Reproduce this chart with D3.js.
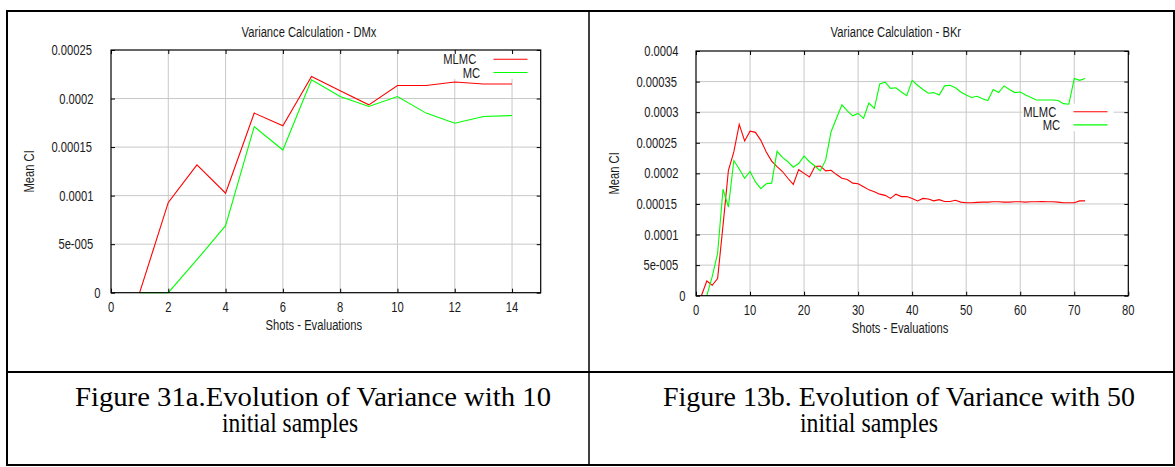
<!DOCTYPE html>
<html>
<head>
<meta charset="utf-8">
<script src="https://cdn.jsdelivr.net/npm/d3@7"></script>
<style>
    body { margin: 0; background: #fff; }
    text { font-family: "Liberation Sans", Arial, sans-serif; font-size: 14px; fill: #1a1a1a; }
    text.cap { font-family: "Liberation Serif", "Times New Roman", serif; font-size: 27px; fill: #000; }
</style>
</head>
<body>
<script>
// DMx run, 10 initial samples
const dmxShots = [1, 2, 3, 4, 5, 6, 7, 8, 9, 10, 11, 12, 13, 14]
const dmxMLMC = [0, 0.000093, 0.0001317, 0.0001025, 0.000185, 0.000172, 0.0002227, 0.000208,
    0.0001935, 0.0002134, 0.0002134, 0.000217, 0.000215, 0.000215]
const dmxMC = [0, 0, 0.000034, 0.000069, 0.000171, 0.000147, 0.0002193, 0.000202,
    0.0001918, 0.000202, 0.000185, 0.0001746, 0.0001815, 0.0001825]

// BKr run, 50 initial samples
const bkrMLMCShots = [1, 2, 3, 4, 5, 6, 7, 8, 9, 10, 11, 12, 13, 14, 15, 16, 17, 18, 19, 20,
    21, 22, 23, 24, 25, 26, 27, 28, 29, 30, 31, 32, 33, 34, 35, 36, 37, 38, 39, 40,
    41, 42, 43, 44, 45, 46, 47, 48, 49, 50, 51, 52, 53, 54, 55, 56, 57, 58, 59, 60,
    61, 62, 63, 64, 65, 66, 67, 68, 69, 70, 71, 72]
const bkrMLMC = [0, 0.000024, 0.000017, 0.000028, 0.000115, 0.000205, 0.000235, 0.00028, 0.000253, 0.000269,
    0.000267, 0.000254, 0.000235, 0.00022, 0.000211, 0.000203, 0.000192, 0.000182, 0.000206, 0.0002,
    0.000194, 0.000211, 0.000212, 0.000204, 0.000205, 0.000198, 0.000192, 0.00019, 0.000184, 0.000183,
    0.000178, 0.000173, 0.00017, 0.000166, 0.000164, 0.000159, 0.000166, 0.000162, 0.000162, 0.000159,
    0.000155, 0.000159, 0.000158, 0.000155, 0.000157, 0.000154, 0.000154, 0.000156, 0.000153, 0.000152,
    0.000152, 0.0001525, 0.000153, 0.000153, 0.0001535, 0.0001535, 0.000153, 0.000153, 0.0001535, 0.0001535,
    0.000153, 0.0001535, 0.0001535, 0.000154, 0.0001535, 0.0001535, 0.000153, 0.000152, 0.000152, 0.000152,
    0.000155, 0.000155]
const bkrMCShots = [2, 3, 4, 5, 6, 7, 8, 9, 10, 11, 12, 13, 14, 15, 16, 17, 18, 19, 20,
    21, 22, 23, 24, 25, 26, 27, 28, 29, 30, 31, 32, 33, 34, 35, 36, 37, 38, 39, 40,
    41, 42, 43, 44, 45, 46, 47, 48, 49, 50, 51, 52, 53, 54, 55, 56, 57, 58, 59, 60,
    61, 62, 63, 64, 65, 66, 67, 68, 69, 70, 71, 72]
const bkrMC = [0, 0.000031, 0.000069, 0.000174, 0.000145, 0.000221, 0.000207, 0.000192, 0.000203,
    0.000186, 0.000175, 0.000183, 0.000184, 0.000236, 0.000226, 0.000219, 0.00021, 0.000216, 0.000228,
    0.000219, 0.000212, 0.000204, 0.000222, 0.000268, 0.00029, 0.000312, 0.000302, 0.000294, 0.000298,
    0.00029, 0.000315, 0.000306, 0.000346, 0.000349, 0.000339, 0.00034, 0.000333, 0.000327, 0.000352,
    0.000344, 0.000337, 0.000331, 0.000332, 0.000328, 0.000343, 0.000344, 0.00034, 0.000333, 0.000328,
    0.000324, 0.000326, 0.000322, 0.000319, 0.000337, 0.000332, 0.000343, 0.000337, 0.000332, 0.000333,
    0.000328, 0.000324, 0.00032, 0.00032, 0.00032, 0.00032, 0.000319, 0.000314, 0.000313, 0.000355,
    0.000352, 0.000355]

const dmxXTicks = [0, 2, 4, 6, 8, 10, 12, 14]
const dmxYTicks = [0, 0.00005, 0.0001, 0.00015, 0.0002, 0.00025]
const bkrXTicks = [0, 10, 20, 30, 40, 50, 60, 70, 80]
const bkrYTicks = [0, 0.00005, 0.0001, 0.00015, 0.0002, 0.00025, 0.0003, 0.00035, 0.0004]
const yLabels = {0: '0', 0.00005: '5e-005', 0.0001: '0.0001', 0.00015: '0.00015', 0.0002: '0.0002',
    0.00025: '0.00025', 0.0003: '0.0003', 0.00035: '0.00035', 0.0004: '0.0004'}

const captions = [
    {x: 75, y: 406, w: 476, text: 'Figure 31a.Evolution of Variance with 10'},
    {x: 222, y: 432, w: 136, text: 'initial samples'},
    {x: 663, y: 406, w: 472, text: 'Figure 13b. Evolution of Variance with 50'},
    {x: 800, y: 432, w: 138, text: 'initial samples'}
]

const width = 1175
const height = 467
const K = 0.8   // the glyphs in the picture are narrower than the metrics they were laid out with

const svg = d3.select('body').append('svg')
    .attr('width', width)
    .attr('height', height)

// lay text out at full width, then squeeze glyphs from the left edge
function squeeze(sel, mode) {
    sel.each(function () {
        const t = d3.select(this)
        const L = this.getComputedTextLength()
        const x0 = +t.attr('x')
        let left = x0 - L / 2
        if (mode === 'end') left = x0 - L
        else if (mode === 'center') left = x0 - L * K / 2
        t.attr('text-anchor', 'start')
            .attr('x', left)
            .attr('textLength', L * K)
            .attr('lengthAdjust', 'spacingAndGlyphs')
    })
}

function drawChart(c) {
    const x = d3.scaleLinear().domain([0, c.xMax]).range([c.x0, c.x1])
    const y = d3.scaleLinear().domain([0, c.yMax]).range([c.y1, c.y0])
    const g = svg.append('g')

    // grid
    g.append('g').selectAll('line')
        .data(c.xTicks.filter(d => d > 0 && d < c.xMax))
        .join('line')
        .attr('x1', d => x(d)).attr('x2', d => x(d))
        .attr('y1', c.y0).attr('y2', c.y1)
        .attr('stroke', '#c8c8c8')
    g.append('g').selectAll('line')
        .data(c.yTicks.filter(d => d > 0 && d < c.yMax))
        .join('line')
        .attr('x1', c.x0).attr('x2', c.x1)
        .attr('y1', d => y(d)).attr('y2', d => y(d))
        .attr('stroke', '#c8c8c8')

    // opaque key
    g.append('rect')
        .attr('x', c.keyX - 42)
        .attr('y', c.keyY - 8)
        .attr('width', 42 + 49)
        .attr('height', 13 + 14.5)
        .attr('fill', '#fff')

    // series
    const line = d3.line().x(d => x(d[0])).y(d => y(d[1]))
    c.series.forEach((s, i) => {
        g.append('path')
            .datum(d3.zip(s.shots, s.values))
            .attr('d', line)
            .attr('fill', 'none')
            .attr('stroke', s.color)
            .attr('stroke-width', 1.1)

        g.append('line')
            .attr('x1', c.keyX + 9).attr('x2', c.keyX + 43)
            .attr('y1', c.keyY + i * 13.2).attr('y2', c.keyY + i * 13.2)
            .attr('stroke', s.color)
            .attr('stroke-width', 1.1)
        g.append('text')
            .attr('x', c.keyX)
            .attr('y', c.keyY + i * 13.2 + 5)
            .text(s.name)
            .call(squeeze, 'end')
    })

    // border + inward ticks on all sides
    g.append('rect')
        .attr('x', c.x0).attr('y', c.y0)
        .attr('width', c.x1 - c.x0).attr('height', c.y1 - c.y0)
        .attr('fill', 'none').attr('stroke', '#000').attr('stroke-width', 1.2)
    const tick = (axis, tx, ty) => g.append('g')
        .attr('transform', `translate(${tx},${ty})`)
        .call(axis.tickSize(-4).tickFormat(''))
        .call(a => a.select('.domain').remove())
        .call(a => a.selectAll('line').attr('stroke', '#000'))
    tick(d3.axisBottom(x).tickValues(c.xTicks), 0, c.y1)
    tick(d3.axisTop(x).tickValues(c.xTicks), 0, c.y0)
    tick(d3.axisLeft(y).tickValues(c.yTicks), c.x0, 0)
    tick(d3.axisRight(y).tickValues(c.yTicks), c.x1, 0)

    // tick labels
    g.append('g').selectAll('text')
        .data(c.xTicks)
        .join('text')
        .attr('x', d => x(d))
        .attr('y', c.y1 + 19)
        .text(d => d)
        .call(squeeze, 'center')
    g.append('g').selectAll('text')
        .data(c.yTicks)
        .join('text')
        .attr('x', c.x0 - 9)
        .attr('y', d => y(d) + 5)
        .text(d => yLabels[d])
        .call(squeeze, 'end')

    const cx = (c.x0 + c.x1) / 2
    g.append('text')
        .attr('x', cx).attr('y', 36.7)
        .text(c.title)
        .call(squeeze, 'mid')
    g.append('text')
        .attr('x', cx).attr('y', c.y1 + 37.5)
        .text('Shots - Evaluations')
        .call(squeeze, 'mid')
    g.append('g')
        .attr('transform', `translate(${c.x0 - 77},${(c.y0 + c.y1) / 2}) rotate(-90)`)
        .append('text')
        .attr('x', 0).attr('y', 0)
        .text('Mean CI')
        .call(squeeze, 'center')
}

drawChart({
    title: 'Variance Calculation - DMx',
    x0: 111, x1: 540.7, y0: 50, y1: 292.7,
    xMax: 15, yMax: 0.00025,
    xTicks: dmxXTicks, yTicks: dmxYTicks,
    keyX: 484.5, keyY: 59.3,
    series: [
        {name: 'MLMC', shots: dmxShots, values: dmxMLMC, color: '#ff0000'},
        {name: 'MC', shots: dmxShots, values: dmxMC, color: '#00ff00'}
    ]
})

drawChart({
    title: 'Variance Calculation - BKr',
    x0: 696, x1: 1128.3, y0: 51, y1: 295.7,
    xMax: 80, yMax: 0.0004,
    xTicks: bkrXTicks, yTicks: bkrYTicks,
    keyX: 1064.5, keyY: 111.7,
    series: [
        {name: 'MLMC', shots: bkrMLMCShots, values: bkrMLMC, color: '#ff0000'},
        {name: 'MC', shots: bkrMCShots, values: bkrMC, color: '#00ff00'}
    ]
})

// document table frame
const frame = svg.append('g').attr('fill', 'none').attr('stroke', '#000')
frame.append('rect')
    .attr('x', 7).attr('y', 11)
    .attr('width', 1167).attr('height', 454)
    .attr('stroke-width', 2)
frame.append('line')
    .attr('x1', 589).attr('x2', 589).attr('y1', 11).attr('y2', 465)
    .attr('stroke-width', 1.5)
frame.append('line')
    .attr('x1', 7).attr('x2', 1174).attr('y1', 372).attr('y2', 372)
    .attr('stroke-width', 2)

svg.append('g').selectAll('text')
    .data(captions)
    .join('text')
    .attr('class', 'cap')
    .attr('x', d => d.x)
    .attr('y', d => d.y)
    .attr('textLength', d => d.w)
    .attr('lengthAdjust', 'spacingAndGlyphs')
    .text(d => d.text)
</script>
</body>
</html>
